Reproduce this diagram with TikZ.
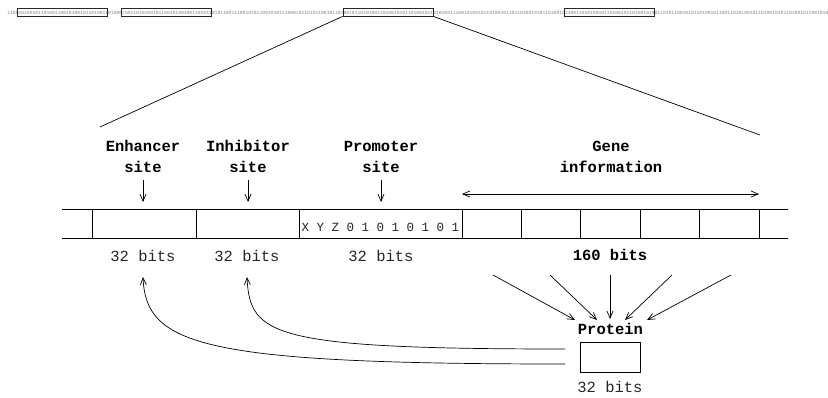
\documentclass[tikz,border=0pt]{standalone}
\usepackage{fontspec}
\setmonofont{Liberation Mono}
\usetikzlibrary{arrows.meta}
\begin{document}
\begin{tikzpicture}[x=1pt,y=-1pt,
  every path/.style={line width=0.7pt},
  arr/.style={-{Straight Barb[length=7pt,width=6pt]}},
  darr/.style={{Straight Barb[length=7pt,width=6pt]}-{Straight Barb[length=7pt,width=6pt]}},
  lab/.style={font=\ttfamily\bfseries\fontsize{15.5}{21}\selectfont, anchor=base, inner sep=0pt},
  bitlab/.style={font=\ttfamily\fontsize{15.5}{21}\selectfont, anchor=base, inner sep=0pt, text=black!85},
  cell/.style={draw, minimum height=29pt, inner sep=0pt, outer sep=0pt},
  bitsbox/.style={draw, line width=0.8pt, black!85, minimum width=90pt, minimum height=8pt, inner sep=0pt}
]
\useasboundingbox (0,0) rectangle (828,397);

% top binary string
\node[anchor=base west, inner sep=0pt, text=gray, font=\ttfamily\fontsize{4.67}{5}\selectfont] (bitstr) at (7,14)
 {11001010010110100110010100101101001101000100110101001011001010010011010110101100111001010110010101110001011010110010110100101101010011010010101101001011010100111001010010110100101101101001010110100101100110101001011010010110100101001101011001010110100101100110101001011010010101101001011001010};
\node[bitsbox] (b1) at (62,12) {};
\node[bitsbox] (b2) at (166,12) {};
\node[bitsbox] (b3) at (388,12) {};
\node[bitsbox] (b4) at (609,12) {};

% zoom lines
\coordinate (zl) at (100,127);
\coordinate (zr) at (760,135);
\draw (b3.south west) -- (zl);
\draw (b3.south east) -- (zr);

% labels
\node[lab] (enh1) at (143,151) {Enhancer};
\node[lab] (enh2) at (143,172) {site};
\node[lab] (inh1) at (248,151) {Inhibitor};
\node[lab] (inh2) at (248,172) {site};
\node[lab] (pro1) at (381,151) {Promoter};
\node[lab] (pro2) at (381,172) {site};
\node[lab] (gen1) at (611,151) {Gene};
\node[lab] (gen2) at (611,172) {information};

% strip
\node[cell, minimum width=104pt] (c1) at (144,223.5) {};
\node[cell, minimum width=103pt] (c2) at (247.5,223.5) {};
\node[cell, minimum width=163pt] (c3) at (380.5,223.5) {};
\node[anchor=base, inner sep=0pt, font=\ttfamily\fontsize{12.5}{14}\selectfont, text=black!85] (xyz) at (380.5,231.5) {X Y Z 0 1 0 1 0 1 0 1};
\node[cell, minimum width=59.4pt] (g1) at (491.7,223.5) {};
\node[cell, minimum width=59.4pt] (g2) at (551.1,223.5) {};
\node[cell, minimum width=59.4pt] (g3) at (610.5,223.5) {};
\node[cell, minimum width=59.4pt] (g4) at (669.9,223.5) {};
\node[cell, minimum width=59.4pt] (g5) at (729.3,223.5) {};
\coordinate (sl1) at (62,209);
\coordinate (sl2) at (62,238);
\coordinate (sr1) at (788,209);
\coordinate (sr2) at (788,238);
\draw (sl1) -- (c1.north west);
\draw (sl2) -- (c1.south west);
\draw (g5.north east) -- (sr1);
\draw (g5.south east) -- (sr2);

% site arrows
\coordinate (ea0) at (143,180); \coordinate (ea1) at (143,202);
\coordinate (ia0) at (248,180); \coordinate (ia1) at (248,202);
\coordinate (pa0) at (381,180); \coordinate (pa1) at (381,202);
\draw[arr] (ea0) -- (ea1);
\draw[arr] (ia0) -- (ia1);
\draw[arr] (pa0) -- (pa1);

% gene double arrow
\coordinate (gl) at (462,194);
\coordinate (gr) at (759,194);
\draw[darr] (gl) -- (gr);

% bit labels
\node[bitlab] (bit1) at (143,261) {32 bits};
\node[bitlab] (bit2) at (247,261) {32 bits};
\node[bitlab] (bit3) at (381,261) {32 bits};
\node[lab] (bit4) at (610,260) {160 bits};

% protein
\node[lab] (plab) at (610.5,334) {Protein};
\node[draw, minimum width=60pt, minimum height=30pt, inner sep=0pt] (prot) at (610,357) {};
\node[bitlab] (pbits) at (610,392) {32 bits};

% converging arrows
\coordinate (s1) at (493,275); \coordinate (t1) at (575,320);
\coordinate (s2) at (550,275); \coordinate (t2) at (597,320);
\coordinate (s3) at (610,275); \coordinate (t3) at (610,319);
\coordinate (s4) at (672,275); \coordinate (t4) at (625,320);
\coordinate (s5) at (731,275); \coordinate (t5) at (647,320);
\draw[arr] (s1) -- (t1);
\draw[arr] (s2) -- (t2);
\draw[arr] (s3) -- (t3);
\draw[arr] (s4) -- (t4);
\draw[arr] (s5) -- (t5);

% feedback curves
\coordinate (f1) at (565,349);
\coordinate (f2) at (565,364);
\coordinate (ft1) at (247,277);
\coordinate (ft2) at (143,277);
\draw[arr] (f1) .. controls (270,349) and (250,335) .. (ft1);
\draw[arr] (f2) .. controls (200,364) and (146,345) .. (ft2);
\end{tikzpicture}
\end{document}
